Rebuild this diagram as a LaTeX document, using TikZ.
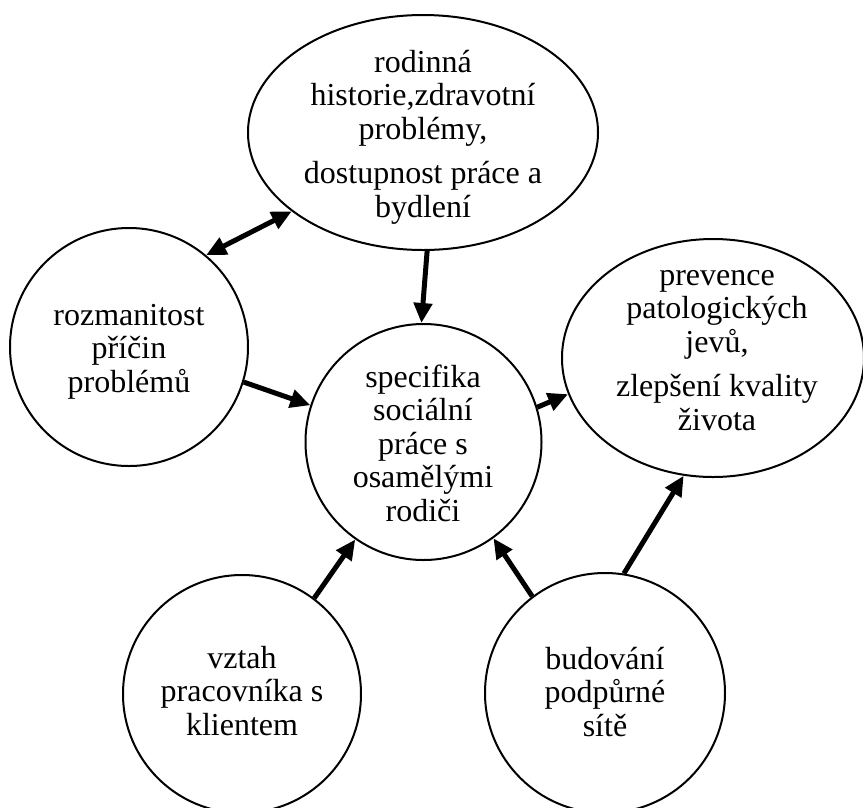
\documentclass[tikz,border=0pt]{standalone}
\usepackage{fontspec}
\setmainfont{Liberation Serif}
\usetikzlibrary{shapes.geometric,arrows.meta}

% centred stack of lines whose baseline is the first line
\newcommand\blocktext[1]{\begin{tabular}[t]{@{}c@{}}#1\end{tabular}}

\tikzset{
  bubble/.style={circle, draw, line width=2pt, inner sep=0pt, minimum size=#1},
  oval/.style={ellipse, draw, line width=2pt, inner sep=0pt},
  caption/.style={anchor=base, inner sep=0pt, font=\fontsize{32}{33.5}\selectfont},
  link/.style={line width=5pt, -{Triangle[length=20pt,width=18pt]}},
  twoway/.style={line width=5pt, {Triangle[length=20pt,width=18pt]}-{Triangle[length=20pt,width=18pt]}}
}

\begin{document}
\begin{tikzpicture}[x=1pt,y=-1pt]
\useasboundingbox (0,0) rectangle (863,807);

% outlines
\node[oval, minimum width=350pt, minimum height=235pt] (T) at (423,132.5) {};
\node[bubble=238pt] (L) at (129,347) {};
\node[bubble=236pt] (C) at (423.5,442) {};
\node[oval, minimum width=302pt, minimum height=238pt] (R) at (713,358) {};
\node[bubble=238pt] (BL) at (242,694) {};
\node[bubble=240pt] (BR) at (605,693) {};

% texts
\node[caption] (tT) at (423,72) {\blocktext{rodinná\\ historie,zdravotní\\ problémy,\\[11pt] dostupnost práce a\\ bydlení}};
\node[caption] (tL) at (129,325) {\blocktext{rozmanitost\\ příčin\\ problémů}};
\node[caption] (tC) at (423,387) {\blocktext{specifika\\ sociální\\ práce s\\ osamělými\\ rodiči}};
\node[caption] (tR) at (717,285) {\blocktext{prevence\\ patologických\\ jevů,\\[11pt] zlepšení kvality\\ života}};
\node[caption] (tBL) at (242,668) {\blocktext{vztah\\ pracovníka s\\ klientem}};
\node[caption] (tBR) at (605,669) {\blocktext{budování\\ podpůrné\\ sítě}};

% connectors
\draw[twoway] (L.50.7) -- (T.-149);
\draw[link] (T.-88) -- (C.91.7);
\draw[link] (L.-17.8) -- (C.162.4);
\draw[link] (C.17) -- (R.194);
\draw[link] (BL.53.8) -- (C.-125.7);
\draw[link] (BR.127.2) -- (C.-54.7);
\draw[link] (BR.81.2) -- (R.-104);
\end{tikzpicture}
\end{document}
